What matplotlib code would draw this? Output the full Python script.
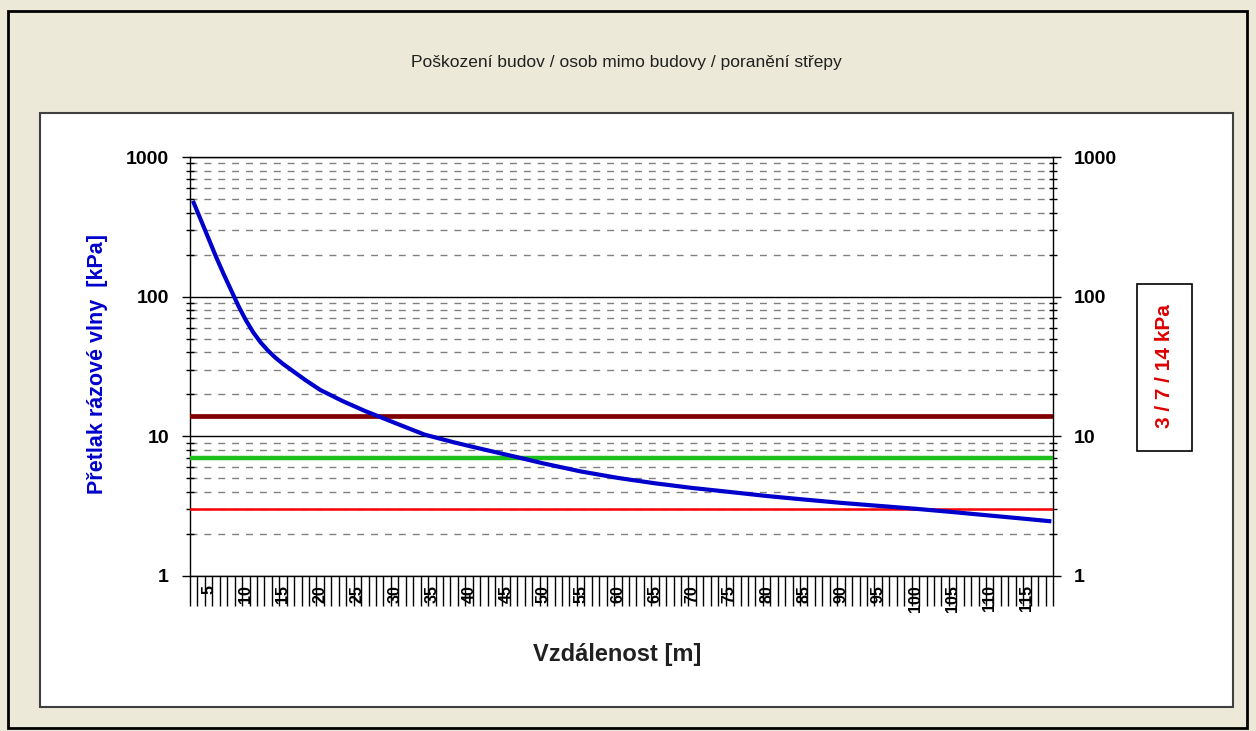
import matplotlib.pyplot as plt
import matplotlib.patches as patches
from matplotlib.ticker import FixedLocator, NullFormatter

plt.rcParams['font.family'] = ['Liberation Sans', 'DejaVu Sans']

# vzdálenost [m] a přetlak [kPa]
distance = [3, 4, 5, 6, 7, 8, 9, 10, 11, 12, 13, 14, 15, 16, 18, 20, 23, 26, 28, 30,
            34, 38, 42, 46, 50, 55, 60, 65, 70, 75, 80, 85, 90, 95, 100, 105, 110, 115, 118]
overpressure = [470, 350, 260, 193, 146, 112, 86, 68, 55.5, 47, 41, 36.5, 33, 30.2, 25.3,
                21.5, 17.9, 15.2, 13.8, 12.5, 10.3, 9.05, 8.05, 7.19, 6.40, 5.61, 5.04, 4.61,
                4.27, 4.00, 3.74, 3.53, 3.34, 3.18, 3.03, 2.87, 2.71, 2.56, 2.47]
limits = [3, 7, 14]  # kPa
y_ticks = [1, 10, 100, 1000]
y_labels = ['1', '10', '100', '1000']
x_labels = list(range(5, 120, 5))

W, H = 1256, 731
P = 0.72  # points per pixel


def box(x0, y0, x1, y1):
    return [x0 / W, 1 - y1 / H, (x1 - x0) / W, (y1 - y0) / H]


fig = plt.figure(figsize=(W / 100, H / 100), dpi=100)
fig.patch.set_facecolor('#ECE9D8')

# rámečky
fig.add_artist(patches.Rectangle((8 / W, 1 - 728 / H), 1239 / W, 717 / H, transform=fig.transFigure,
                                 fill=False, ec='black', lw=2, zorder=-3))
fig.add_artist(patches.Rectangle((40 / W, 1 - 707 / H), 1193 / W, 594 / H, transform=fig.transFigure,
                                 fc='white', ec='#404040', lw=1.5, zorder=-2))
fig.add_artist(patches.Rectangle((1137 / W, 1 - 451 / H), 55 / W, 167 / H, transform=fig.transFigure,
                                 fc='white', ec='black', lw=1.2, zorder=-1))

fig.text(626 / W, 1 - 62 / H, 'Poškození budov / osob mimo budovy / poranění střepy',
         ha='center', va='center', fontsize=12.5, color='#202020')

ax = fig.add_axes(box(190, 157, 1053, 576))
ax.set_facecolor('white')
ax.set_yscale('log')
ax.set_ylim(1, 1000)
ax.set_xlim(2.5, 118.5)

# y osa
ax.yaxis.set_major_locator(FixedLocator(y_ticks))
ax.set_yticklabels(y_labels, fontsize=14, fontweight='bold')
ax.yaxis.set_minor_locator(FixedLocator([m * d for d in [1, 10, 100] for m in range(2, 10)]))
ax.yaxis.set_minor_formatter(NullFormatter())
ax.tick_params(axis='y', which='major', direction='out', length=8 * P, width=1,
               left=True, right=True, labelleft=True, labelright=True, pad=13 * P)
ax.tick_params(axis='y', which='minor', direction='inout', length=8 * P, width=1,
               left=True, right=True)
ax.grid(True, which='major', axis='y', color='black', lw=1)
ax.grid(True, which='minor', axis='y', color='#808080', lw=1, ls=(0, (5, 5)))

# x osa
ax.xaxis.set_major_locator(FixedLocator(x_labels))
ax.set_xticklabels([str(v) for v in x_labels], rotation=90, fontsize=11.5, fontweight='bold')
ax.xaxis.set_minor_locator(FixedLocator([v + 0.5 for v in range(2, 119)]))
ax.tick_params(axis='x', which='major', length=0, pad=9 * P)
ax.tick_params(axis='x', which='minor', direction='out', length=30 * P, width=1)

for s in ax.spines.values():
    s.set_color('black')
    s.set_linewidth(1)

ax.axhline(limits[2], color='#800000', lw=3.4, zorder=3)
ax.axhline(limits[1], color='#1EC01E', lw=3.2, zorder=3)
ax.axhline(limits[0], color='#FF0000', lw=1.8, zorder=3)
ax.plot(distance, overpressure, color='#0000CC', lw=3.0, zorder=5)

fig.text(617 / W, 1 - 655 / H, 'Vzdálenost [m]', ha='center', va='center',
         fontsize=17, fontweight='bold', color='#202020')
fig.text(98 / W, 1 - 364 / H, 'Přetlak rázové vlny  [kPa]', ha='center', va='center',
         rotation=90, fontsize=15.5, fontweight='bold', color='#0000CC')
fig.text(1164 / W, 1 - 366 / H, '3 / 7 / 14 kPa', ha='center', va='center',
         rotation=90, fontsize=15, fontweight='bold', color='#DD0000')

fig.savefig('out.png', dpi=100, facecolor=fig.get_facecolor())
